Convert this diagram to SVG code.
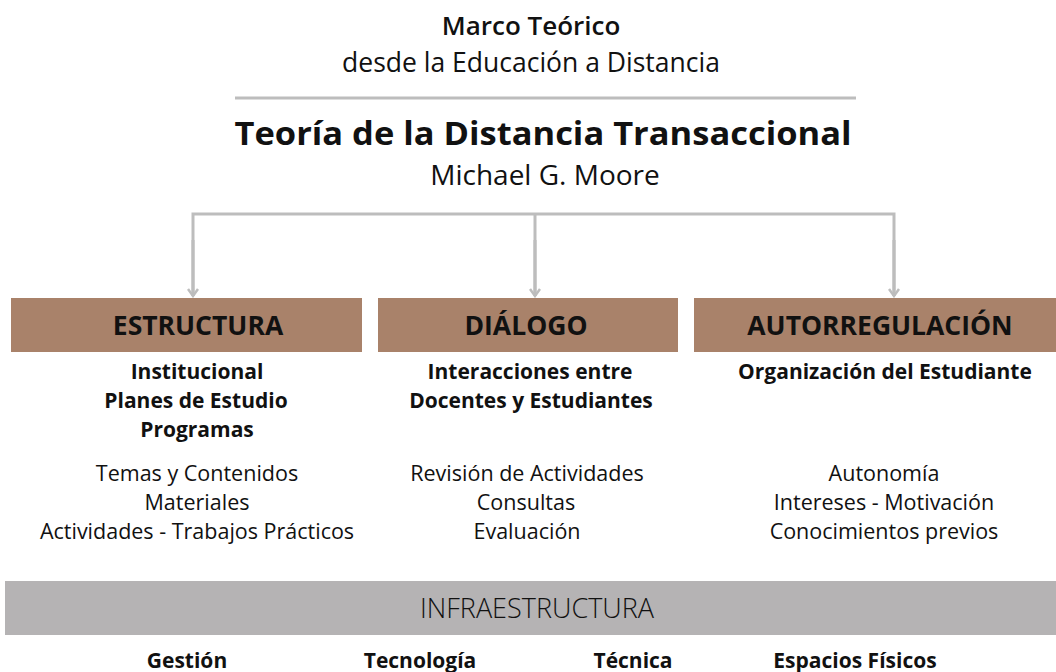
<svg xmlns="http://www.w3.org/2000/svg" width="1056" height="672" viewBox="0 0 1056 672">
<style>
text{font-family:"Open Sans","Noto Sans",sans-serif;fill:#111;text-anchor:middle}
.t1{font-size:26px;font-weight:600}
.t2{font-size:26.5px;font-weight:400}
.h{font-size:32px;font-weight:700}
.a{font-size:28px;font-weight:400}
.lab{font-size:26.5px;font-weight:700}
.sb{font-size:21px;font-weight:700}
.rg{font-size:21.5px;font-weight:400}
.inf{font-size:27px;font-weight:300}
.bt{font-size:21px;font-weight:700}
.box{fill:#a9826a}
.conn{fill:none;stroke:#bdbdbd;stroke-width:3}
</style>
<defs>
<marker id="ah" viewBox="0 0 10 12" refX="8" refY="6" markerWidth="10" markerHeight="12" markerUnits="userSpaceOnUse" orient="auto">
<path d="M1,1 L8,6 L1,11" fill="none" stroke="#bdbdbd" stroke-width="2.5"/>
</marker>
</defs>
<g id="header">
<text class="t1" x="531" y="35">Marco Teórico</text>
<text class="t2" x="531" y="72">desde la Educación a Distancia</text>
<line x1="235" y1="98" x2="856" y2="98" stroke="#bdbdbd" stroke-width="3"/>
<text class="h" x="543" y="145" textLength="617" lengthAdjust="spacingAndGlyphs">Teoría de la Distancia Transaccional</text>
<text class="a" x="545" y="185">Michael G. Moore</text>
</g>
<g id="connectors">
<path class="conn" d="M193,296 V214 H894 V296"/>
<path class="conn" d="M535,214 V296"/>
<path class="conn" d="M193,240 V296" marker-end="url(#ah)"/>
<path class="conn" d="M535,240 V296" marker-end="url(#ah)"/>
<path class="conn" d="M894,240 V296" marker-end="url(#ah)"/>
</g>
<g id="estructura">
<rect class="box" x="11" y="298" width="351" height="54"/>
<text class="lab" x="198" y="335">ESTRUCTURA</text>
<text class="sb" x="197" y="379">Institucional</text>
<text class="sb" x="196" y="408">Planes de Estudio</text>
<text class="sb" x="197" y="437">Programas</text>
<text class="rg" x="197" y="481">Temas y Contenidos</text>
<text class="rg" x="197" y="510">Materiales</text>
<text class="rg" x="197" y="539">Actividades - Trabajos Prácticos</text>
</g>
<g id="dialogo">
<rect class="box" x="378" y="298" width="300" height="54"/>
<text class="lab" x="526" y="335">DIÁLOGO</text>
<text class="sb" x="530" y="379">Interacciones entre</text>
<text class="sb" x="531" y="408">Docentes y Estudiantes</text>
<text class="rg" x="527" y="481">Revisión de Actividades</text>
<text class="rg" x="526" y="510">Consultas</text>
<text class="rg" x="527" y="539">Evaluación</text>
</g>
<g id="autorregulacion">
<rect class="box" x="694" y="298" width="362" height="54"/>
<text class="lab" x="880" y="335">AUTORREGULACIÓN</text>
<text class="sb" x="885" y="379">Organización del Estudiante</text>
<text class="rg" x="884" y="481">Autonomía</text>
<text class="rg" x="884" y="510">Intereses - Motivación</text>
<text class="rg" x="884" y="539">Conocimientos previos</text>
</g>
<g id="infraestructura">
<rect x="5" y="581" width="1051" height="54" fill="#b5b3b4"/>
<text class="inf" x="537" y="618">INFRAESTRUCTURA</text>
<text class="bt" x="187" y="668">Gestión</text>
<text class="bt" x="420" y="668">Tecnología</text>
<text class="bt" x="633" y="668">Técnica</text>
<text class="bt" x="855" y="668">Espacios Físicos</text>
</g>
</svg>
